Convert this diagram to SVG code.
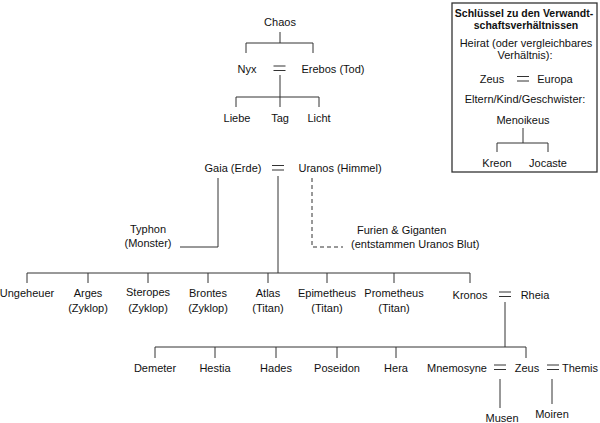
<svg xmlns="http://www.w3.org/2000/svg" width="600" height="423" viewBox="0 0 600 423">
<style>
text{font-family:"Liberation Sans",Arial,sans-serif;font-size:11px;fill:#111;text-anchor:middle}
.l{text-anchor:start}
.b{font-weight:bold;font-size:10.5px}
.c{fill:none;stroke:#333;stroke-width:1}
.d{stroke-dasharray:4 3}
.box{fill:#fff;stroke:#333;stroke-width:1.3}
</style>
<rect width="600" height="423" fill="#fff"/>
<g id="connectors">
<path class="c" d="M280 32V43M246 43H313M246 43V53M313 43V53"/>
<path class="c" d="M280 75V97M236 97H319M236 97V107M280 97V107M319 97V107"/>
<path class="c" d="M218 178V247H180"/>
<path class="c d" d="M312 178V247H343"/>
<path class="c" d="M278 176V273M27 273H470M27 273V283M88 273V283M148 273V283M208 273V283M268 273V283M327 273V283M394 273V283M470 273V283"/>
<path class="c" d="M505 302V347M155 347H526M155 347V358M215 347V358M276 347V358M337 347V358M396 347V358M526 347V358"/>
<path class="c" d="M500 379V408M552 379V404"/>
<path class="c" d="M273.5 66H285.5M273.5 70.5H285.5"/>
<path class="c" d="M272 165.5H284M272 170H284"/>
<path class="c" d="M499 292H511M499 296.5H511"/>
<path class="c" d="M494 365H506M494 369.5H506"/>
<path class="c" d="M547 365H559M547 369.5H559"/>
</g>
<g id="chaos"><text x="280" y="26">Chaos</text></g>
<g id="nyx"><text x="247" y="73">Nyx</text></g>
<g id="erebos"><text x="333" y="73">Erebos (Tod)</text></g>
<g id="liebe"><text x="237" y="122">Liebe</text></g>
<g id="tag"><text x="280" y="122">Tag</text></g>
<g id="licht"><text x="319" y="122">Licht</text></g>
<g id="gaia"><text x="233" y="172">Gaia (Erde)</text></g>
<g id="uranos"><text x="340" y="172">Uranos (Himmel)</text></g>
<g id="typhon"><text x="148" y="233">Typhon</text><text x="148" y="247">(Monster)</text></g>
<g id="furien"><text class="l" x="357" y="234">Furien &amp; Giganten</text><text class="l" x="351" y="248">(entstammen Uranos Blut)</text></g>
<g id="ungeheuer"><text x="27" y="297">Ungeheuer</text></g>
<g id="arges"><text x="88" y="297">Arges</text><text x="88" y="312">(Zyklop)</text></g>
<g id="steropes"><text x="148" y="296">Steropes</text><text x="148" y="312">(Zyklop)</text></g>
<g id="brontes"><text x="208" y="297">Brontes</text><text x="208" y="312">(Zyklop)</text></g>
<g id="atlas"><text x="268" y="297">Atlas</text><text x="268" y="312">(Titan)</text></g>
<g id="epimetheus"><text x="327" y="297">Epimetheus</text><text x="327" y="312">(Titan)</text></g>
<g id="prometheus"><text x="394" y="297">Prometheus</text><text x="394" y="312">(Titan)</text></g>
<g id="kronos"><text x="470" y="299">Kronos</text></g>
<g id="rheia"><text x="535" y="299">Rheia</text></g>
<g id="demeter"><text x="155" y="372">Demeter</text></g>
<g id="hestia"><text x="215" y="372">Hestia</text></g>
<g id="hades"><text x="276" y="372">Hades</text></g>
<g id="poseidon"><text x="337" y="372">Poseidon</text></g>
<g id="hera"><text x="396" y="372">Hera</text></g>
<g id="mnemosyne"><text x="457" y="372">Mnemosyne</text></g>
<g id="zeus"><text x="527" y="372">Zeus</text></g>
<g id="themis"><text x="580" y="372">Themis</text></g>
<g id="musen"><text x="502" y="422">Musen</text></g>
<g id="moiren"><text x="552" y="418">Moiren</text></g>
<g id="legend">
<rect class="box" x="452" y="3" width="145" height="169"/>
<text class="b" x="524" y="17">Schlüssel zu den Verwandt-</text>
<text class="b" x="526" y="29">schaftsverhältnissen</text>
<text x="526" y="47">Heirat (oder vergleichbares</text>
<text x="525" y="59">Verhältnis):</text>
<text x="492" y="83">Zeus</text>
<path class="c" d="M517 76.5H529M517 81H529"/>
<text x="555" y="83">Europa</text>
<text x="525" y="103">Eltern/Kind/Geschwister:</text>
<text x="523" y="124">Menoikeus</text>
<path class="c" d="M523 128V143M497 143H548M497 143V152M548 143V152"/>
<text x="497" y="167">Kreon</text>
<text x="548" y="167">Jocaste</text>
</g>
</svg>
